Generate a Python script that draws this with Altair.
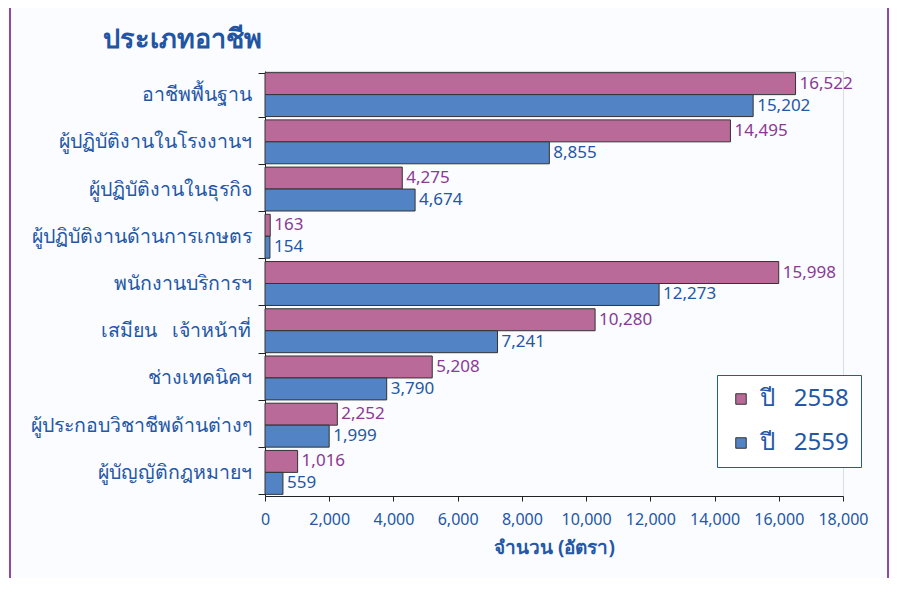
import altair as alt
import pandas as pd

categories = ["อาชีพพื้นฐาน", "ผู้ปฏิบัติงานในโรงงานฯ", "ผู้ปฏิบัติงานในธุรกิจ",
              "ผู้ปฏิบัติงานด้านการเกษตร", "พนักงานบริการฯ", "เสมียน\u00a0\u00a0\u00a0เจ้าหน้าที่",
              "ช่างเทคนิคฯ", "ผู้ประกอบวิชาชีพด้านต่างๆ", "ผู้บัญญัติกฎหมายฯ"]
years = ["ปี\u00a0\u00a0\u00a02558", "ปี\u00a0\u00a0\u00a02559"]
v2558 = [16522, 14495, 4275, 163, 15998, 10280, 5208, 2252, 1016]
v2559 = [15202, 8855, 4674, 154, 12273, 7241, 3790, 1999, 559]
x_ticks = [0, 2000, 4000, 6000, 8000, 10000, 12000, 14000, 16000, 18000]

PINK = "#b96a98"
BLUE = "#5283c4"
PINK_T = "#8a3a92"
BLUE_T = "#2457a5"
FONT = "Noto Sans"

rows = []
for c, a, b in zip(categories, v2558, v2559):
    rows.append({"cat": c, "year": years[0], "value": a, "tcol": PINK_T})
    rows.append({"cat": c, "year": years[1], "value": b, "tcol": BLUE_T})
df = pd.DataFrame(rows)

y_enc = alt.Y("cat:N", sort=categories,
              scale=alt.Scale(paddingInner=0.07, paddingOuter=0.035),
              axis=alt.Axis(title=None, tickBand="extent", tickSize=7, tickColor="#222",
                            domainColor="#222", labelColor=BLUE_T, labelFontSize=19.5,
                            labelFont=FONT, labelPadding=7, grid=False, labelLimit=300))
yo_enc = alt.YOffset("year:N", sort=years)
x_enc = alt.X("value:Q", scale=alt.Scale(domain=[0, 18000], nice=False),
              axis=alt.Axis(values=x_ticks, labelExpr="format(datum.value, ',.0f')",
                            tickSize=5, labelOverlap=False, labelFlush=False,
                            tickColor="#222", domainColor="#222", labelColor=BLUE_T,
                            labelFontSize=16, labelFont=FONT, labelPadding=10, grid=False,
                            title="จำนวน (อัตรา)", titleFontSize=19, titleFont=FONT,
                            titleColor=BLUE_T, titleFontWeight="bold", titlePadding=11))

bars = alt.Chart(df).mark_bar(stroke="#333", strokeWidth=1).encode(
    y=y_enc, yOffset=yo_enc, x=x_enc,
    color=alt.Color("year:N", sort=years,
                    scale=alt.Scale(domain=years, range=[PINK, BLUE]),
                    legend=alt.Legend(title=None, orient="none", legendX=452, legendY=304,
                                      strokeColor=BLUE_T, fillColor="#ffffff", padding=12,
                                      symbolType="square", symbolSize=110,
                                      symbolStrokeColor="#333", symbolStrokeWidth=1,
                                      labelFontSize=24, labelFont=FONT, labelColor=BLUE_T,
                                      rowPadding=20, labelOffset=7)),
)

labels = alt.Chart(df).mark_text(align="left", baseline="middle", dx=4, fontSize=17,
                                 font=FONT).encode(
    y=y_enc, yOffset=yo_enc, x=x_enc,
    text=alt.Text("value:Q", format=","),
    color=alt.Color("tcol:N", scale=None),
)

one = pd.DataFrame({"a": [0]})
frame = alt.Chart(one).mark_rect(fill=None, stroke="#8e4aa0", strokeWidth=2).encode(
    x=alt.value(-255), x2=alt.value(623), y=alt.value(-66), y2=alt.value(560))

title = alt.Chart(one).mark_text(text="ประเภทอาชีพ", fontSize=27, fontWeight="bold",
                                 color="#1f55a3", align="left", baseline="alphabetic",
                                 font=FONT).encode(x=alt.value(-162), y=alt.value(-23))

chart = alt.layer(frame, bars, labels, title).properties(
    width=578, height=425,
    padding={"left": 257, "top": 63, "right": 47, "bottom": 82},
    autosize=alt.AutoSizeParams(type="none"),
).configure_view(stroke=None).configure(background="#fbfcff")

chart.save("out.html", embed_options={"renderer": "svg", "actions": False})
